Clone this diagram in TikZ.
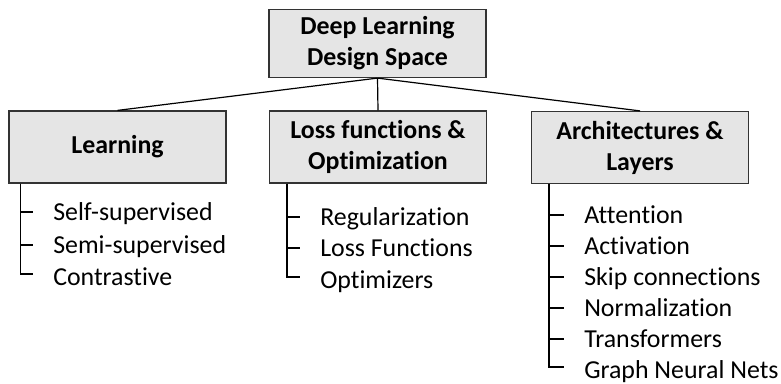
\documentclass[tikz,border=0pt]{standalone}
\usepackage{fontspec}
\setmainfont{Carlito}[Ligatures=NoCommon]
\usepackage{xcolor}
\usepackage{tikz}

\newcommand{\diagfont}{\fontsize{19.4}{23.3}\selectfont}

\tikzset{
  catbox/.style={draw=black!80, line width=0.9pt, fill=black!10, align=center,
    inner sep=0pt, minimum width=162.75pt, font=\diagfont\bfseries},
  item/.style={anchor=west, inner sep=0pt, text height=12.5pt, text depth=0pt},
  branch/.style={draw=black, line width=0.9pt}
}

\begin{document}
\begin{tikzpicture}[x=0.75pt, y=-0.75pt, font=\diagfont]
            \useasboundingbox (0,0) rectangle (781,383);

            % root and the three areas
            \node[catbox, minimum height=51pt] (root) at (377.5,43.5) {Deep Learning\\Design Space};
            \node[catbox, minimum height=54pt] (learn) at (117.5,147) {Learning};
            \node[catbox, minimum height=54pt] (loss) at (378,147) {Loss functions \&\\Optimization};
            \node[catbox, minimum height=54pt] (arch) at (640,147.5) {Architectures \&\\Layers};

            \draw[branch] (root.south) -- (learn.north);
            \draw[branch] (root.south) -- (loss.north);
            \draw[branch] (root.south) -- (arch.north);

            % learning
            \node[item] (selfsup) at (53,212) {Self-supervised};
            \node[item] (semisup) at (53,245) {Semi-supervised};
            \node[item] (contrast) at (53,277) {Contrastive};
            \coordinate (learnTrunk) at ([xshift=9pt]learn.south west);
            \draw[branch] (learnTrunk) |- ([xshift=-15pt]selfsup.west);
            \draw[branch] (learnTrunk) |- ([xshift=-15pt]semisup.west);
            \draw[branch] (learnTrunk) |- ([xshift=-15pt, yshift=2.25pt]contrast.west);

            % loss functions and optimization
            \node[item] (regul) at (320,217) {Regularization};
            \node[item] (lossfn) at (320,248) {Loss Functions};
            \node[item] (optim) at (320,280) {Optimizers};
            \coordinate (lossTrunk) at ([xshift=13.5pt]loss.south west);
            \draw[branch] (lossTrunk) |- ([xshift=-15pt]regul.west);
            \draw[branch] (lossTrunk) |- ([xshift=-15pt]lossfn.west);
            \draw[branch] (lossTrunk) |- ([xshift=-15pt, yshift=2.25pt]optim.west);

            % architectures and layers
            \node[item] (attn) at (584,215) {Attention};
            \node[item] (activ) at (584,246) {Activation};
            \node[item] (skip) at (584,277) {Skip connections};
            \node[item] (norm) at (584,308) {Normalization};
            \node[item] (transf) at (584,339) {Transformers};
            \node[item] (gnn) at (584,370) {Graph Neural Nets};
            \coordinate (archTrunk) at ([xshift=13.5pt]arch.south west);
            \draw[branch] (archTrunk) |- ([xshift=-15pt]attn.west);
            \draw[branch] (archTrunk) |- ([xshift=-15pt]activ.west);
            \draw[branch] (archTrunk) |- ([xshift=-15pt]skip.west);
            \draw[branch] (archTrunk) |- ([xshift=-15pt]norm.west);
            \draw[branch] (archTrunk) |- ([xshift=-15pt]transf.west);
            \draw[branch] (archTrunk) |- ([xshift=-15pt, yshift=2.25pt]gnn.west);
        \end{tikzpicture}
\end{document}
